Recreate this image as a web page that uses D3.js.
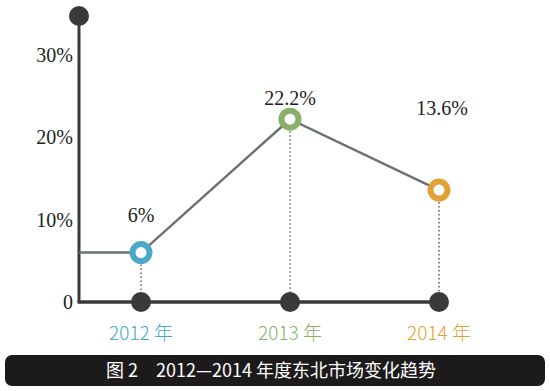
<!DOCTYPE html>
<html>
<head>
<meta charset="utf-8">
<script src="https://cdn.jsdelivr.net/npm/d3@7"></script>
<style>
  body { margin: 0; background: #fff; }
  svg { display: block; }
</style>
</head>
<body>
<div id="chart"></div>
<script>
const years = ["2012", "2013", "2014"];
const yearLabels = ["2012 年", "2013 年", "2014 年"];
const values = [6, 22.2, 13.6];
const valueLabels = ["6%", "22.2%", "13.6%"];
const yTicks = [0, 10, 20, 30];
const yTickLabels = ["0", "10%", "20%", "30%"];
const colors = ["#4aa8c8", "#8aaf6a", "#e3a236"];
const caption = "图 2　2012—2014 年度东北市场变化趋势";

const width = 550, height = 391;
const axisColor = "#3a3a3a";
const x0 = 79;

const svg = d3.select("#chart").append("svg")
      .attr("width", width)
      .attr("height", height);

const x = d3.scalePoint()
      .domain(years)
      .range([141, 439]);

const y = d3.scaleLinear()
      .domain([0, 30])
      .range([302, 55]);

// y axis line with top knob
svg.append("line")
      .attr("x1", x0).attr("x2", x0)
      .attr("y1", 16).attr("y2", y(0))
      .attr("stroke", axisColor).attr("stroke-width", 3);
svg.append("circle")
      .attr("cx", x0).attr("cy", 16).attr("r", 10)
      .attr("fill", axisColor);

// x axis line
svg.append("line")
      .attr("x1", x0 - 1.5).attr("x2", x(years[2]))
      .attr("y1", y(0)).attr("y2", y(0))
      .attr("stroke", axisColor).attr("stroke-width", 3.5);

// y tick labels
svg.selectAll(".ytick")
      .data(yTicks)
      .enter().append("text")
      .attr("x", 73)
      .attr("y", d => y(d))
      .attr("dy", "0.35em")
      .attr("text-anchor", "end")
      .attr("font-family", "Liberation Serif, serif")
      .attr("font-size", 20)
      .attr("fill", "#222")
      .text((d, i) => yTickLabels[i]);

// dotted drop lines
svg.selectAll(".drop")
      .data(years)
      .enter().append("line")
      .attr("x1", d => x(d)).attr("x2", d => x(d))
      .attr("y1", (d, i) => y(values[i]))
      .attr("y2", y(0))
      .attr("stroke", "#8a8a8a")
      .attr("stroke-width", 2)
      .attr("stroke-dasharray", "1.5,2.5");

// trend line (starting from the y axis at the first value)
const linePts = [[x0, y(values[0])]].concat(years.map((d, i) => [x(d), y(values[i])]));
svg.append("path")
      .attr("d", d3.line()(linePts))
      .attr("fill", "none")
      .attr("stroke", "#6b7370")
      .attr("stroke-width", 2.5);

// x axis knobs
svg.selectAll(".knob")
      .data(years)
      .enter().append("circle")
      .attr("cx", d => x(d)).attr("cy", y(0)).attr("r", 10)
      .attr("fill", axisColor);

// data rings
svg.selectAll(".pt")
      .data(years)
      .enter().append("circle")
      .attr("cx", d => x(d))
      .attr("cy", (d, i) => y(values[i]))
      .attr("r", 8.5)
      .attr("fill", "#fff")
      .attr("stroke", (d, i) => colors[i])
      .attr("stroke-width", 6);

// value labels
const labelOffsets = [38, 21, 82];
svg.selectAll(".vlabel")
      .data(years)
      .enter().append("text")
      .attr("x", (d, i) => x(d) + (i === 2 ? 3 : 0))
      .attr("y", (d, i) => y(values[i]) - labelOffsets[i])
      .attr("dy", "0.35em")
      .attr("text-anchor", "middle")
      .attr("font-family", "Liberation Serif, serif")
      .attr("font-size", 20)
      .attr("fill", "#222")
      .text((d, i) => valueLabels[i]);

// year labels
svg.selectAll(".xlabel")
      .data(years)
      .enter().append("text")
      .attr("x", d => x(d))
      .attr("y", 333)
      .attr("dy", "0.35em")
      .attr("text-anchor", "middle")
      .attr("font-family", "Noto Sans CJK SC, sans-serif")
      .attr("font-weight", 300)
      .attr("font-size", 19)
      .attr("fill", (d, i) => colors[i])
      .text((d, i) => yearLabels[i]);

// caption bar
svg.append("rect")
      .attr("x", 5).attr("y", 355)
      .attr("width", 540).attr("height", 31)
      .attr("rx", 7)
      .attr("fill", "#1c1a1b");
svg.append("text")
      .attr("x", 271).attr("y", 371)
      .attr("dy", "0.35em")
      .attr("text-anchor", "middle")
      .attr("font-family", "Noto Sans CJK SC, sans-serif")
      .attr("font-size", 18)
      .attr("font-weight", 400)
      .attr("fill", "#fff")
      .text(caption);
</script>
</body>
</html>
